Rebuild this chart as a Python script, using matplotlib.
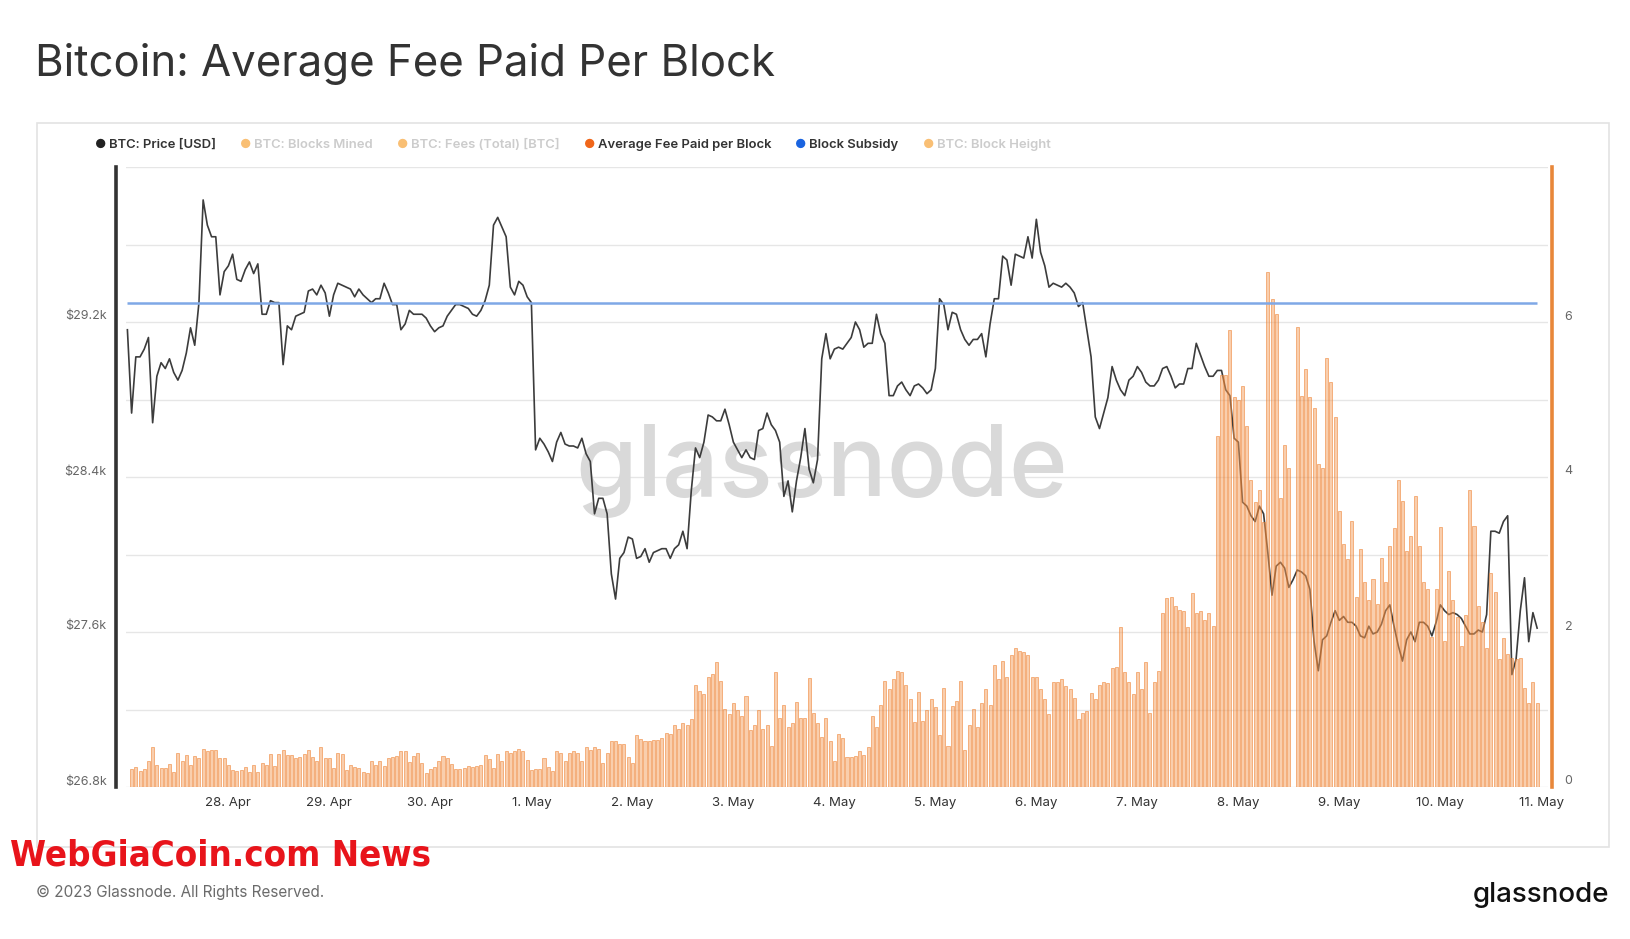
import matplotlib
matplotlib.use("Agg")
import matplotlib.pyplot as plt
import matplotlib.transforms as mtransforms
from matplotlib.patches import Rectangle
import numpy as np
import pandas as pd

plt.rcParams['font.family'] = ['Inter', 'DejaVu Sans']

# hourly BTC price (USD), starting 27 Apr 2023 00:00
price_usd = [
    29160, 28730, 29020, 29020, 29060, 29120, 28680, 28920, 28990, 28960, 29010, 28940,
    28900, 28950, 29040, 29170, 29080, 29300, 29830, 29700, 29640, 29640, 29340, 29460,
    29490, 29550, 29420, 29410, 29470, 29510, 29450, 29500, 29240, 29240, 29310, 29300,
    29300, 28980, 29180, 29160, 29230, 29240, 29250, 29360, 29370, 29340, 29390, 29350,
    29230, 29340, 29400, 29390, 29380, 29370, 29330, 29370, 29340, 29320, 29300, 29320,
    29320, 29400, 29350, 29290, 29290, 29160, 29190, 29260, 29240, 29240, 29240, 29220,
    29180, 29150, 29170, 29180, 29230, 29260, 29290, 29290, 29280, 29270, 29240, 29230,
    29260, 29310, 29390, 29700, 29740, 29690, 29640, 29380, 29340, 29410, 29390, 29330,
    29300, 28540, 28600, 28570, 28530, 28480, 28580, 28630, 28570, 28560, 28560, 28550,
    28600, 28520, 28480, 28210, 28290, 28290, 28210, 27900, 27770, 27980, 28010, 28090,
    28080, 27980, 27990, 28030, 27960, 28010, 28020, 28030, 28030, 27980, 28030, 28050,
    28120, 28030, 28330, 28550, 28500, 28580, 28720, 28710, 28690, 28690, 28750, 28670,
    28580, 28540, 28500, 28540, 28500, 28490, 28640, 28650, 28730, 28670, 28640, 28580,
    28300, 28380, 28220, 28380, 28500, 28650, 28440, 28370, 28490, 29010, 29140, 29010,
    29060, 29070, 29060, 29090, 29120, 29200, 29160, 29070, 29090, 29090, 29240, 29140,
    29090, 28820, 28820, 28870, 28890, 28850, 28820, 28870, 28880, 28860, 28830, 28850,
    28960, 29320, 29290, 29160, 29250, 29240, 29160, 29110, 29080, 29110, 29110, 29140,
    29020, 29190, 29320, 29320, 29540, 29520, 29390, 29550, 29540, 29530, 29640, 29530,
    29730, 29560, 29490, 29380, 29400, 29390, 29380, 29400, 29380, 29350, 29280, 29300,
    29160, 29020, 28710, 28650, 28730, 28810, 28970, 28900, 28850, 28820, 28900, 28920,
    28970, 28940, 28890, 28870, 28870, 28900, 28960, 28970, 28920, 28860, 28880, 28880,
    28960, 28960, 29090, 29030, 28970, 28920, 28920, 28950, 28950, 28850, 28820, 28600,
    28580, 28270, 28250, 28200, 28170, 28250, 28210, 28010, 27790, 27940, 27960, 27930,
    27830, 27870, 27920, 27910, 27890, 27820, 27550, 27400, 27560, 27580, 27650, 27710,
    27660, 27680, 27650, 27650, 27630, 27580, 27570, 27630, 27590, 27600, 27640, 27710,
    27740, 27630, 27530, 27450, 27560, 27600, 27550, 27650, 27650, 27630, 27580, 27650,
    27740, 27710, 27690, 27700, 27690, 27670, 27630, 27590, 27590, 27610, 27600, 27690,
    28120, 28120, 28110, 28170, 28200, 27380, 27460, 27710, 27880, 27550, 27700, 27620,
]

# hourly average fee paid per block (BTC), starting 27 Apr 2023 01:00
avg_fee_btc = [
    0.23, 0.26, 0.21, 0.23, 0.34, 0.52, 0.28, 0.25, 0.25, 0.30, 0.19, 0.44, 0.33, 0.41,
    0.28, 0.40, 0.37, 0.49, 0.46, 0.48, 0.48, 0.38, 0.37, 0.28, 0.22, 0.21, 0.22, 0.26,
    0.20, 0.28, 0.20, 0.31, 0.28, 0.42, 0.27, 0.42, 0.48, 0.41, 0.41, 0.38, 0.39, 0.42,
    0.48, 0.39, 0.34, 0.51, 0.38, 0.38, 0.25, 0.44, 0.42, 0.22, 0.28, 0.26, 0.25,
    0.20, 0.18, 0.34, 0.28, 0.34, 0.27, 0.37, 0.39, 0.40, 0.46, 0.46, 0.32, 0.40, 0.44,
    0.31, 0.18, 0.23, 0.26, 0.33, 0.40, 0.37, 0.30, 0.23, 0.23, 0.25, 0.27, 0.26, 0.27,
    0.28, 0.41, 0.36, 0.25, 0.42, 0.34, 0.47, 0.44, 0.46, 0.49, 0.46, 0.35, 0.22, 0.23,
    0.23, 0.37, 0.26, 0.21, 0.47, 0.44, 0.34, 0.44, 0.47, 0.44, 0.33, 0.51, 0.48, 0.51,
    0.49, 0.31, 0.44, 0.60, 0.59, 0.56, 0.56, 0.39, 0.31, 0.67, 0.62, 0.60, 0.60, 0.61,
    0.61, 0.63, 0.70, 0.69, 0.80, 0.75, 0.82, 0.80, 0.88, 1.31, 1.24, 1.20, 1.42, 1.46,
    1.61, 1.37, 1.01, 0.94, 1.09, 1.00, 0.91, 1.18, 0.73, 0.80, 0.99, 0.75, 0.80, 0.53,
    1.48, 0.89, 1.06, 0.77, 0.83, 1.10, 0.89, 0.89, 1.41, 0.96, 0.83, 0.65, 0.89, 0.60,
    0.34, 0.68, 0.63, 0.39, 0.39, 0.40, 0.47, 0.41, 0.51, 0.92, 0.78, 1.06, 1.37, 1.27,
    1.40, 1.50, 1.48, 1.31, 1.14, 0.84, 1.22, 0.85, 0.99, 1.14, 1.03, 0.67, 1.28, 0.53,
    1.04, 1.11, 1.37, 0.48, 0.80, 1.01, 0.78, 1.09, 1.27, 1.06, 1.58, 1.40, 1.63, 1.42,
    1.70, 1.79, 1.75, 1.74, 1.70, 1.42, 1.42, 1.27, 1.14, 0.94, 1.35, 1.35, 1.40, 1.30,
    1.27, 1.15, 0.88, 0.96, 0.98, 1.21, 1.14, 1.32, 1.36, 1.34, 1.53, 1.55, 2.07, 1.49,
    1.35, 1.20, 1.49, 1.27, 1.61, 0.96, 1.35, 1.50, 2.24, 2.44, 2.45, 2.33, 2.28, 2.27,
    2.06, 2.50, 2.24, 2.27, 2.15, 2.24, 2.08, 4.53, 5.31, 5.31, 5.90, 5.03, 5.00, 5.17,
    4.66, 3.96, 3.68, 3.83, 3.42, 6.64, 6.30, 6.10, 3.73, 4.41, 4.12, 0.00, 5.93, 5.05,
    5.39,
    5.03, 4.89, 4.17, 4.12, 5.53, 5.23, 4.77, 3.56, 3.13, 2.94, 3.43, 2.45, 3.07, 2.64,
    2.41, 2.69, 2.36, 2.96, 2.64, 3.11, 3.34, 3.96, 3.69, 3.05, 3.24, 3.76, 3.11, 2.64,
    2.56, 1.94, 2.56, 3.36, 1.89, 2.79, 2.41, 2.20, 1.82, 2.22, 3.83, 3.37, 2.34, 2.13,
    1.80, 2.76, 2.51, 1.65, 1.92, 1.71, 1.67, 1.65, 1.66, 1.28, 1.08, 1.36, 1.08,
]

block_subsidy = 6.25
price_ticks = [26800, 27200, 27600, 28000, 28400, 28800, 29200, 29600, 30000]
price_tick_labels = ['$26.8k', '', '$27.6k', '', '$28.4k', '', '$29.2k', '', '']
fee_ticks = [0, 2, 4, 6]
day_ticks = pd.date_range('2023-04-28', '2023-05-11', freq='D')
legend_names = ['BTC: Price [USD]', 'BTC: Blocks Mined', 'BTC: Fees (Total) [BTC]',
                'Average Fee Paid per Block', 'Block Subsidy', 'BTC: Block Height']
legend_colors = ['#222222', '#f8b45c', '#f8b45c', '#f0661a', '#1a64e0', '#f8b45c']
legend_active = [True, False, False, True, True, False]

price_time = pd.date_range('2023-04-27 00:00', periods=len(price_usd), freq='h')
fee_time = pd.date_range('2023-04-27 01:00', periods=len(avg_fee_btc), freq='h')

W, H = 1630, 939
fig = plt.figure(figsize=(W / 100, H / 100), dpi=100)
fig.patch.set_facecolor('white')


def fx(px):
    return px / W


def fy(py):
    return 1 - py / H


# chart frame
fig.add_artist(Rectangle((fx(37), fy(847)), fx(1609) - fx(37), fy(123) - fy(847),
                         transform=fig.transFigure, fill=False,
                         edgecolor='#e3e3e3', lw=1.2))

ax = fig.add_axes([fx(126), fy(787), fx(1548) - fx(126), fy(167) - fy(787)])
ax2 = ax.twinx()

# price line (left axis)
ax.plot(price_time, price_usd, color='#3c3c3c', lw=1.2, zorder=3)
ax.set_ylim(26800, 30000)
ax.set_yticks(price_ticks)
ax.set_yticklabels(price_tick_labels)
ax.grid(axis='y', color='#e6e6e6', lw=1)
ax.set_axisbelow(True)

# watermark
ax.text(0.489, 0.51, 'glassnode', transform=ax.transAxes, fontsize=72,
        color='#d9d9d9', ha='center', va='center', fontweight='medium', zorder=1)

# fee bars + subsidy (right axis)
ax2.bar(fee_time, avg_fee_btc, width=0.72 / 24, color=(0.96, 0.62, 0.36, 0.5),
        edgecolor=(0.93, 0.50, 0.18, 0.75), linewidth=0.5, zorder=2)
ax2.hlines(block_subsidy, price_time[0], price_time[-1], color='#7fa8e6', lw=1.8, zorder=4)
ax2.set_ylim(0, 8)
ax2.set_yticks(fee_ticks)

ax.set_xlim(price_time[0] - pd.Timedelta(minutes=20), pd.Timestamp('2023-05-11 01:35'))
ax.set_xticks(day_ticks)
ax.set_xticklabels([f"{d.day}. {d.strftime('%b')}" for d in day_ticks])

for s in ['top', 'right', 'bottom']:
    ax.spines[s].set_visible(False)
for s in ['top', 'left', 'bottom']:
    ax2.spines[s].set_visible(False)
ax.spines['left'].set_color('#333333')
ax.spines['left'].set_linewidth(2.6)
ax.spines['left'].set_position(('outward', 7))
ax2.spines['right'].set_color('#e8873a')
ax2.spines['right'].set_linewidth(2.6)
ax2.spines['right'].set_position(('outward', 3))

ax.tick_params(axis='y', length=0, pad=7, labelsize=9, labelcolor='#666666')
ax2.tick_params(axis='y', length=0, pad=9, labelsize=9, labelcolor='#666666')
ax.tick_params(axis='x', length=0, pad=7, labelsize=9.5, labelcolor='#333333')

up = mtransforms.ScaledTranslation(0, 7 / 100, fig.dpi_scale_trans)
for lbl in ax.get_yticklabels() + ax2.get_yticklabels():
    lbl.set_transform(lbl.get_transform() + up)

# title
fig.text(fx(35), fy(64), 'Bitcoin: Average Fee Paid Per Block', fontsize=31.5,
         color='#333333', ha='left', va='center')

# legend
legend_x = [101, 246, 403, 590, 801, 929]
for name, col, act, x0 in zip(legend_names, legend_colors, legend_active, legend_x):
    fig.text(fx(x0), fy(145), '\u25cf', fontsize=9, color=col,
             alpha=1 if act else 0.85, ha='center', va='center')
    fig.text(fx(x0 + 8), fy(145), name, fontsize=9.4, fontweight='semibold',
             color='#333333' if act else '#cccccc', ha='left', va='center')

# footer
red = fig.text(fx(10), fy(855), 'WebGiaCoin.com News', fontsize=30, fontweight='bold',
               family='DejaVu Sans', fontstretch='condensed', color='#e8141b',
               ha='left', va='center')
fig.canvas.draw()
red_w = red.get_window_extent().width
if red_w > 420:
    red.set_fontsize(30 * 420 / red_w)

fig.text(fx(36), fy(892), '\u00a9 2023 Glassnode. All Rights Reserved.', fontsize=11,
         color='#6b6b6b', ha='left', va='center')
fig.text(fx(1609), fy(895), 'glassnode', fontsize=20, fontweight='medium',
         color='#111111', ha='right', va='center')

fig.savefig('out.png', dpi=100, facecolor='white')
